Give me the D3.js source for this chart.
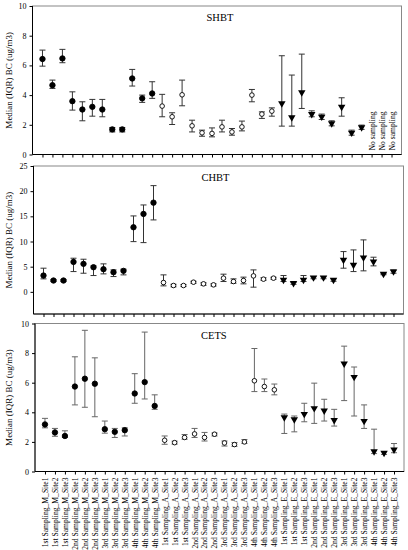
<!DOCTYPE html>
<html>
<head>
<meta charset="utf-8">
<title>Median BC by site</title>
<script src="https://cdn.jsdelivr.net/npm/d3@7"></script>
<style>
    body { margin: 0; background: #fff; }
    svg text { font-family: "Liberation Serif", "Times New Roman", serif; fill: #000; }
    .axis path, .axis line { stroke: #000; stroke-width: 1; }
</style>
</head>
<body>
<script>
// categories along the x axis
var categories = [
    "1st Sampling_M_Site1","1st Sampling_M_Site2","1st Sampling_M_Site3",
    "2nd Sampling_M_Site1","2nd Sampling_M_Site2","2nd Sampling_M_Site3",
    "3rd Sampling_M_Site1","3rd Sampling_M_Site2","3rd Sampling_M_Site3",
    "4th Sampling_M_Site1","4th Sampling_M_Site2","4th Sampling_M_Site3",
    "1st Sampling_A_Site1","1st Sampling_A_Site2","1st Sampling_A_Site3",
    "2nd Sampling_A_Site1","2nd Sampling_A_Site2","2nd Sampling_A_Site3",
    "3rd Sampling_A_Site1","3rd Sampling_A_Site2","3rd Sampling_A_Site3",
    "4th Sampling_A_Site1","4th Sampling_A_Site2","4th Sampling_A_Site3",
    "1st Sampling_E_Site1","1st Sampling_E_Site2","1st Sampling_E_Site3",
    "2nd Sampling_E_Site1","2nd Sampling_E_Site2","2nd Sampling_E_Site3",
    "3rd Sampling_E_Site1","3rd Sampling_E_Site2","3rd Sampling_E_Site3",
    "4th Sampling_E_Site1","4th Sampling_E_Site2","4th Sampling_E_Site3"
];
// season group of each category -> marker
var groups = ["M","M","M","M","M","M","M","M","M","M","M","M",
              "A","A","A","A","A","A","A","A","A","A","A","A",
              "E","E","E","E","E","E","E","E","E","E","E","E"];

// SHBT (no sampling for the last three)
var shbtMed = [6.43,4.67,6.47,3.59,3.03,3.21,3.03,1.69,1.69,5.12,3.78,4.11,
               3.26,2.54,4.02,1.93,1.46,1.42,1.86,1.52,1.86,4.00,2.72,2.92,
               3.44,2.49,4.18,2.72,2.54,2.09,3.21,1.46,1.82,null,null,null];
var shbtLo  = [5.95,4.45,6.18,2.99,2.27,2.58,2.54,1.52,1.52,4.61,3.51,3.78,
               2.54,2.02,3.28,1.52,1.23,1.19,1.52,1.30,1.59,3.55,2.43,2.58,
               1.91,1.91,3.10,2.54,2.36,1.93,2.58,1.30,1.69,null,null,null];
var shbtHi  = [7.03,5.01,7.08,4.22,3.55,3.71,3.71,1.82,1.82,5.73,4.00,4.90,
               4.05,2.81,5.01,2.31,1.64,1.79,2.31,1.75,2.25,4.38,2.87,3.14,
               6.65,5.35,6.76,2.94,2.72,2.27,3.82,1.64,1.98,null,null,null];

// CHBT
var chbtMed = [3.24,2.25,2.25,5.95,5.56,4.89,4.50,3.90,4.17,12.83,15.48,17.72,
               1.85,1.26,1.26,1.92,1.59,1.39,2.72,2.05,2.25,3.17,2.52,2.72,
               2.38,1.72,2.38,2.84,2.84,2.38,6.35,5.36,6.81,6.01,3.57,4.03];
var chbtLo  = [2.58,2.05,2.05,4.03,3.70,3.24,3.57,3.04,3.37,9.98,9.78,14.29,
               1.19,1.00,1.05,1.70,1.30,1.15,2.05,1.72,1.59,0.93,2.30,2.50,
               2.05,1.50,2.05,2.60,2.60,2.10,4.70,4.03,4.17,5.16,3.40,3.70];
var chbtHi  = [4.70,2.45,2.45,6.68,6.48,5.16,5.56,4.36,4.50,15.08,17.26,21.10,
               3.37,1.50,1.45,2.10,1.80,1.60,3.51,2.58,2.92,4.36,2.80,2.90,
               3.24,1.90,3.24,3.00,3.00,2.60,8.00,8.33,10.32,6.88,3.70,4.36];

// CETS
var cetsMed = [3.18,2.64,2.40,5.74,6.27,5.93,2.86,2.68,2.79,5.27,6.04,4.43,
               2.11,1.95,2.30,2.54,2.30,2.52,1.93,1.82,2.00,6.13,5.74,5.52,
               3.66,3.52,3.88,4.27,4.11,3.47,7.29,6.38,3.41,1.36,1.25,1.48];
var cetsLo  = [2.95,2.38,2.30,4.50,4.34,3.70,2.59,2.30,2.40,4.61,4.90,4.20,
               1.84,1.85,2.18,2.30,2.06,2.40,1.72,1.70,1.89,5.40,5.40,5.18,
               2.57,2.68,3.36,3.25,3.41,3.07,4.79,3.75,2.91,1.21,1.15,1.27];
var cetsHi  = [3.59,2.91,2.75,7.75,9.54,7.68,3.41,2.91,2.95,6.61,9.42,5.18,
               2.40,2.05,2.50,2.91,2.64,2.60,2.06,1.95,2.16,8.31,6.25,5.91,
               3.88,3.75,4.61,5.97,4.88,4.20,8.47,7.06,4.50,2.86,1.35,1.89];

var panelNames = ["SHBT", "CHBT", "CETS"];
var yTicks = [[0,2,4,6,8,10], [0,5,10,15,20,25], [0,2,4,6,8,10]];
var noSamplingText = "No sampling";
var yTitle = "Median (IQR) BC (ug/m3)";

var width = 408, height = 550;

var panels = [
    {name: panelNames[0], med: shbtMed, lo: shbtLo, hi: shbtHi, ticks: yTicks[0],
     dom: [0, 10], left: 32.5, right: 401.5, top: 6, bottom: 154.5, bar: "#333", tx: 174},
    {name: panelNames[1], med: chbtMed, lo: chbtLo, hi: chbtHi, ticks: yTicks[1],
     dom: [-4.4, 25], left: 33.5, right: 403.5, top: 166, bottom: 314, bar: "#333", tx: 168},
    {name: panelNames[2], med: cetsMed, lo: cetsLo, hi: cetsHi, ticks: yTicks[2],
     dom: [0, 10], left: 35, right: 404, top: 323.5, bottom: 471.5, bar: "#666", tx: 166}
];

var svg = d3.select("body").append("svg")
    .attr("width", width)
    .attr("height", height);

var triangle = d3.symbol().type(d3.symbolTriangle).size(24);

panels.forEach(function(p, pi){
    var x = d3.scaleLinear().domain([0, categories.length + 1]).range([p.left, p.right]);
    var y = d3.scaleLinear().domain(p.dom).range([p.bottom, p.top]);

    var g = svg.append("g");

    // grey frame on top/right
    g.append("rect")
        .attr("x", p.left).attr("y", p.top)
        .attr("width", p.right - p.left).attr("height", p.bottom - p.top)
        .attr("fill", "none").attr("stroke", "#888").attr("stroke-width", 1);

    var axisY = d3.axisLeft(y).tickValues(p.ticks).tickSize(3).tickSizeOuter(0);
    var gy = g.append("g").classed("axis", true)
        .attr("transform", "translate(" + p.left + ",0)")
        .call(axisY);
    gy.select(".domain").attr("d", "M0," + p.top + "V" + p.bottom);
    gy.selectAll("text").attr("font-size", 8).attr("x", -6);

    var idx = d3.range(1, categories.length + 1);
    var axisX = d3.axisBottom(x).tickValues(idx).tickSize(3).tickSizeOuter(0)
        .tickFormat(function(d){ return pi == 2 ? categories[d - 1] : ""; });
    var gx = g.append("g").classed("axis", true)
        .attr("transform", "translate(0," + p.bottom + ")")
        .call(axisX);
    gx.select(".domain").attr("d", "M" + p.left + ",0H" + p.right);
    if (pi == 2) {
        gx.selectAll("text")
            .attr("font-size", 7.6)
            .attr("text-anchor", "end")
            .attr("transform", "rotate(-90)")
            .attr("x", -6)
            .attr("y", 0)
            .attr("dy", "0.32em");
    }

    // panel name
    g.append("text")
        .attr("x", p.left + p.tx)
        .attr("y", p.top + 15)
        .attr("font-size", 10.5)
        .text(p.name);

    // y title
    g.append("text")
        .attr("transform", "translate(12," + ((p.top + p.bottom) / 2) + ") rotate(-90)")
        .attr("text-anchor", "middle")
        .attr("font-size", 9)
        .text(yTitle);

    var rows = idx.map(function(i){
        return {i: i, med: p.med[i - 1], lo: p.lo[i - 1], hi: p.hi[i - 1], grp: groups[i - 1]};
    });
    var valid = rows.filter(function(d){ return d.med != null; });

    // error bars
    var eb = g.selectAll("g.eb").data(valid).enter().append("g").attr("class", "eb")
        .attr("stroke", p.bar).attr("stroke-width", 1);
    eb.append("line")
        .attr("x1", function(d){ return x(d.i); }).attr("x2", function(d){ return x(d.i); })
        .attr("y1", function(d){ return y(d.lo); }).attr("y2", function(d){ return y(d.hi); });
    eb.append("line")
        .attr("x1", function(d){ return x(d.i) - 3; }).attr("x2", function(d){ return x(d.i) + 3; })
        .attr("y1", function(d){ return y(d.lo); }).attr("y2", function(d){ return y(d.lo); });
    eb.append("line")
        .attr("x1", function(d){ return x(d.i) - 3; }).attr("x2", function(d){ return x(d.i) + 3; })
        .attr("y1", function(d){ return y(d.hi); }).attr("y2", function(d){ return y(d.hi); });

    // markers
    g.selectAll("circle.m").data(valid.filter(function(d){ return d.grp != "E"; }))
        .enter().append("circle").attr("class", "m")
        .attr("cx", function(d){ return x(d.i); })
        .attr("cy", function(d){ return y(d.med); })
        .attr("r", function(d){ return d.grp == "M" ? 2.7 : 2.3; })
        .attr("fill", function(d){ return d.grp == "M" ? "#000" : "#fff"; })
        .attr("stroke", "#000").attr("stroke-width", 0.9);

    g.selectAll("path.t").data(valid.filter(function(d){ return d.grp == "E"; }))
        .enter().append("path").attr("class", "t")
        .attr("d", triangle)
        .attr("transform", function(d){ return "translate(" + x(d.i) + "," + y(d.med) + ") rotate(180)"; })
        .attr("fill", "#000");

    // "No sampling" notes
    var missing = rows.filter(function(d){ return d.med == null; });
    g.selectAll("text.ns").data(missing).enter().append("text").attr("class", "ns")
        .attr("transform", function(d){ return "translate(" + (x(d.i) + 3) + "," + (p.bottom - 4) + ") rotate(-90)"; })
        .attr("font-size", 7.6)
        .text(noSamplingText);
});
</script>
</body>
</html>
